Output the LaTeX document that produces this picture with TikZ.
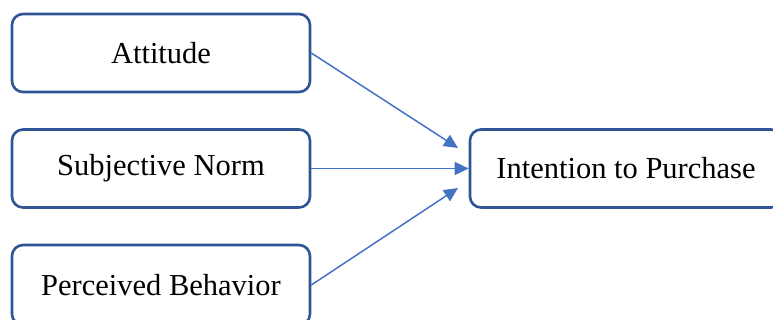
\documentclass[tikz,border=0pt]{standalone}
\usepackage{fontspec}
\setmainfont{Liberation Serif}
\usetikzlibrary{arrows.meta}
\definecolor{boxblue}{HTML}{2F5597}
\definecolor{arrowblue}{HTML}{4472C4}
\tikzset{
  box/.style={draw=boxblue, line width=2.6pt, rounded corners=11pt, fill=white,
    minimum width=298pt, minimum height=78pt, inner sep=0pt,
    font=\fontsize{30.5}{36}\selectfont},
  conn/.style={draw=arrowblue, line width=1.5pt, -{Triangle[length=14pt,width=13pt]}}
}
\newcommand{\lowtxt}[1]{\raisebox{-2pt}{#1}}
\begin{document}
\begin{tikzpicture}[x=1pt,y=-1pt]
\clip (0,0) rectangle (773,320);
\useasboundingbox (0,0) rectangle (773,320);
\node[box] (att) at (161,53) {\lowtxt{Attitude}};
\node[box] (sub) at (161,168.5) {\lowtxt{Subjective Norm}};
\node[box, minimum height=80pt] (per) at (161,285) {\lowtxt{Perceived Behavior}};
\node[box, minimum width=312pt] (int) at (626,168.5) {\lowtxt{Intention to Purchase}};
\coordinate (t1) at (458,148);
\coordinate (t3) at (458,188);
\draw[conn] (att.east) -- (t1);
\draw[conn] (sub.east) -- (int.west);
\draw[conn] (per.east) -- (t3);
\end{tikzpicture}
\end{document}
